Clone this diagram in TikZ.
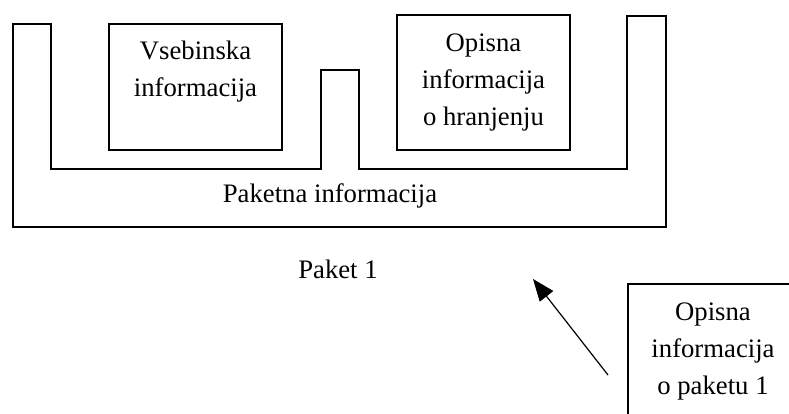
\documentclass[tikz,border=0pt]{standalone}
\usepackage{fontspec}
\setmainfont{Liberation Serif}
\usepackage{tikz}
\usetikzlibrary{arrows.meta}

\begin{document}
\begin{tikzpicture}[x=1pt, y=-1pt, line width=1.2pt,
    box/.style={draw, align=center, inner sep=0pt, font=\fontsize{26.7}{37}\selectfont},
    lbl/.style={inner sep=0pt, anchor=base, font=\fontsize{26.7}{37}\selectfont}]
    \clip (0, 0) rectangle (789, 414);
    \fill[white] (0, 0) rectangle (789, 414);

    % packet frame with two slots
    \draw (13, 24) -- (51, 24) -- (51, 169) -- (321, 169) -- (321, 70) -- (359, 70)
        -- (359, 169) -- (627, 169) -- (627, 16) -- (666, 16) -- (666, 227)
        -- (13, 227) -- cycle;
    \node[lbl] (paketna) at (330, 203) {Paketna informacija};

    % contents
    \node[box, minimum width=173, minimum height=126] (vsebina) at (195.5, 87)
        {Vsebinska\\informacija\\ };
    \node[box, minimum width=173, minimum height=135] (hranjenje) at (483.5, 82.5)
        {Opisna\\informacija\\o hranjenju};

    \node[lbl] (paket) at (338, 278) {Paket 1};

    % description of the packet (runs off the page)
    \node[box, minimum width=170, minimum height=167] (opis) at (713, 367.5)
        {Opisna\\informacija\\o paketu 1\\ };
    \coordinate (kazalec) at (608, 375);
    \coordinate (cilj) at (533, 279);
    \draw[-{Triangle[length=22pt, width=17pt]}] (kazalec) -- (cilj);
\end{tikzpicture}
\end{document}
